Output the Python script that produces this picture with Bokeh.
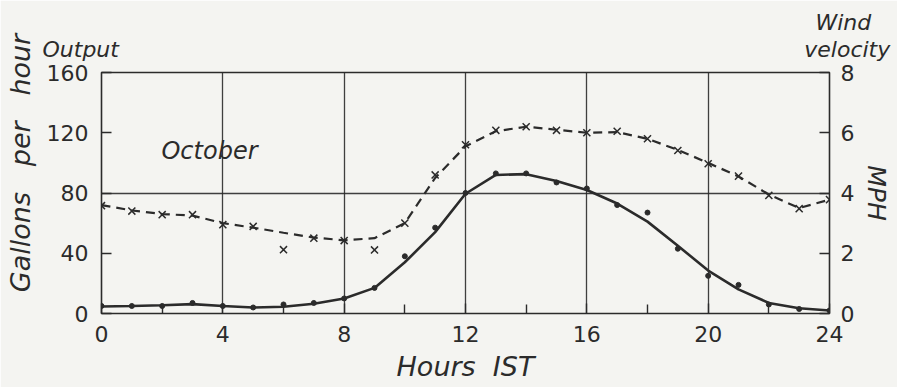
import math
from bokeh.plotting import figure
from bokeh.models import Range1d, LinearAxis, FixedTicker, Label, Title
from bokeh.embed import file_html
from bokeh.resources import INLINE

# ---- data ----
hours = list(range(0, 25))
# output, gallons per hour: observed dots
output_obs = [5, 5, 5, 7, 5, 4, 6, 7, 10, 17, 38, 57, 80, 93, 93, 87, 83, 72, 67, 43, 25, 19, 6, 3, 2]
# output, fitted smooth curve
output_fit = [4.6, 5, 5.5, 6.2, 5, 4, 4.5, 6.5, 10, 17, 34, 54, 79.5, 92, 92.5, 88, 82, 73, 61, 45, 28.5, 16, 7, 3.5, 2]
# wind velocity, MPH: observed crosses
wind_obs = [3.58, 3.4, 3.28, 3.28, 2.95, 2.89, 2.12, 2.5, 2.42, 2.11, 3.0, 4.6, 5.6, 6.08, 6.2, 6.08, 6.0, 6.05, 5.8, 5.41, 4.97, 4.56, 3.92, 3.48, 3.78]
# wind velocity, fitted dashed curve
wind_fit = [3.6, 3.42, 3.3, 3.25, 3.0, 2.85, 2.68, 2.52, 2.43, 2.5, 3.0, 4.5, 5.55, 6.05, 6.2, 6.1, 6.0, 6.02, 5.8, 5.43, 5.0, 4.55, 3.95, 3.5, 3.78]

x_ticks = [0, 4, 8, 12, 16, 20, 24]
x_minor = [2, 6, 10, 14, 18, 22]
y_ticks = [0, 40, 80, 120, 160]
mph_ticks = [0, 2, 4, 6, 8]

INK = "#2b2b2b"
BG = "#f4f4f1"
FONT = "DejaVu Sans"
NB = "\u00a0"
W, H = 897, 387

p = figure(width=W, height=H, output_backend="svg", toolbar_location=None,
           x_range=Range1d(0, 24), y_range=Range1d(0, 160),
           min_border_left=101, min_border_right=68, min_border_top=72, min_border_bottom=74)
p.background_fill_color = BG
p.border_fill_color = BG
p.outline_line_color = INK
p.outline_line_width = 1.6

p.extra_y_ranges = {"mph": Range1d(0, 8)}

# axes
for ax in (p.xaxis[0], p.yaxis[0]):
    ax.axis_line_color = None
    ax.major_tick_in = 10
    ax.major_tick_out = 0
    ax.major_tick_line_color = INK
    ax.major_tick_line_width = 1.4
    ax.major_label_text_font = FONT
    ax.major_label_text_font_size = "22px"
    ax.major_label_text_color = INK
    ax.minor_tick_in = 9
    ax.minor_tick_out = 0
    ax.minor_tick_line_color = INK
    ax.minor_tick_line_width = 1.4
    ax.axis_label_text_font = FONT
    ax.axis_label_text_font_style = "italic"
    ax.axis_label_text_color = INK

p.xaxis.ticker = FixedTicker(ticks=x_ticks, minor_ticks=x_minor)
p.xaxis.major_label_standoff = 12
p.xaxis.axis_label = "Hours" + NB + " IST"
p.xaxis.axis_label_text_font_size = "27px"
p.xaxis.axis_label_standoff = 6

p.yaxis.ticker = FixedTicker(ticks=y_ticks)
p.yaxis.major_label_standoff = 13
p.yaxis.axis_label = NB * 7 + "Gallons" + NB * 2 + " per" + NB * 2 + " hour"
p.yaxis.axis_label_text_font_size = "27px"
p.yaxis.axis_label_standoff = 8

# right axis: MPH
rax = LinearAxis(y_range_name="mph", ticker=FixedTicker(ticks=mph_ticks))
rax.axis_line_color = None
rax.major_tick_in = 10
rax.major_tick_out = 0
rax.major_tick_line_color = INK
rax.major_tick_line_width = 1.4
rax.minor_tick_line_color = None
rax.major_label_text_font = FONT
rax.major_label_text_font_size = "22px"
rax.major_label_text_color = INK
rax.major_label_standoff = 11
rax.axis_label = "MPH"
rax.axis_label_text_font = FONT
rax.axis_label_text_font_style = "italic"
rax.axis_label_text_font_size = "25px"
rax.axis_label_text_color = INK
rax.axis_label_standoff = 5
p.add_layout(rax, "right")

# header texts above the frame
t_out = Title(text="Output" + NB * 98 + "velocity", align="left", offset=-59, standoff=22,
              text_font=FONT, text_font_style="italic", text_font_size="22px", text_color=INK)
t_wind = Title(text="Wind", align="left", offset=714, standoff=-22,
               text_font=FONT, text_font_style="italic", text_font_size="22px", text_color=INK)
p.add_layout(t_out, "above")
p.add_layout(t_wind, "above")

# grid
p.xgrid.ticker = FixedTicker(ticks=[4, 8, 12, 16, 20])
p.ygrid.ticker = FixedTicker(ticks=[80])
p.grid.grid_line_color = INK
p.grid.grid_line_width = 1.3
p.grid.grid_line_alpha = 0.9

# output (solid curve + dots)
p.line(hours, output_fit, line_color=INK, line_width=2.6)
p.scatter(hours, output_obs, marker="circle", size=5, fill_color=INK, line_color=INK)

# wind (dashed curve + crosses)
p.line(hours, wind_fit, y_range_name="mph", line_color=INK, line_width=2.2, line_dash="9 6")
p.scatter(hours, wind_obs, y_range_name="mph", marker="x", size=10, line_color=INK, line_width=1.5)

# in-plot label
p.add_layout(Label(x=3.56, y=108, text="October", text_font=FONT, text_font_size="24px",
                   text_font_style="italic", text_color=INK, text_align="center",
                   text_baseline="middle"))

open("out.html", "w").write(file_html(p, INLINE))
